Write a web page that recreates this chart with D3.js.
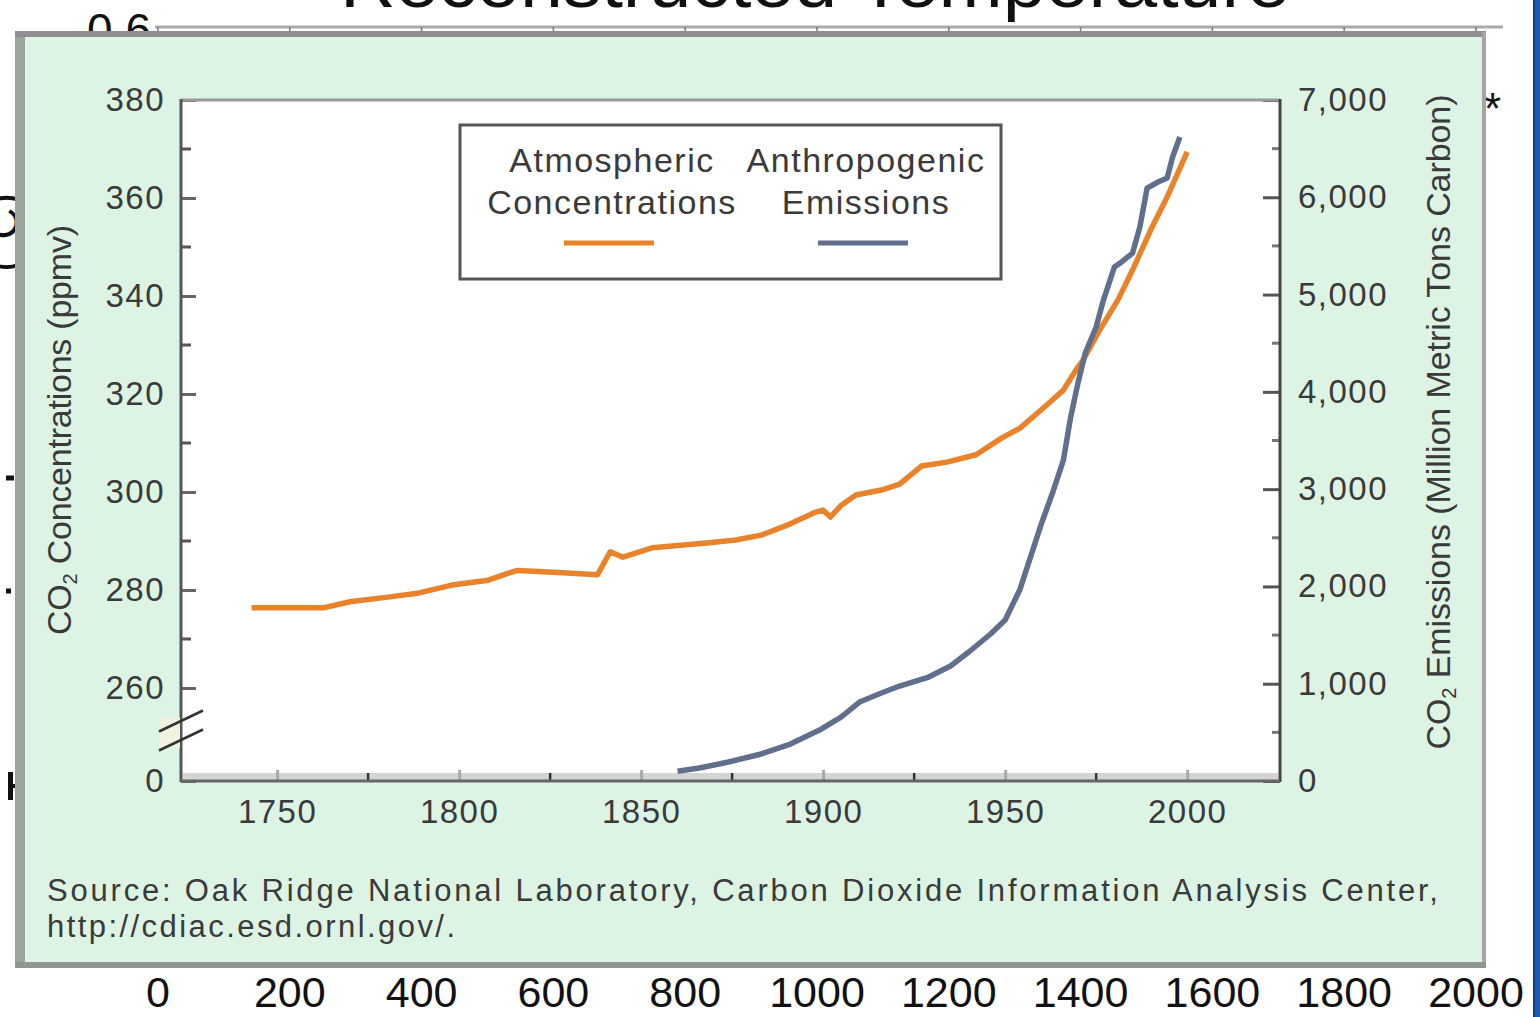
<!DOCTYPE html>
<html><head><meta charset="utf-8">
<script src="https://cdn.jsdelivr.net/npm/d3@7"></script>
<style>
body{margin:0;background:#fff;overflow:hidden;}
svg{display:block;}
text{font-family:"Liberation Sans",Arial,Helvetica,sans-serif;}
</style>
</head><body>
<svg id="c" width="1540" height="1017"></svg>
<script>
// ---- data ----
const concYears  = [1743,1763,1770,1781,1789,1798,1808,1813,1816,1826,1838,1841.5,1845,1853,1868,1876,1883,1891,1898,1900,1902,1905,1909,1916,1921,1927,1934,1942,1949,1954,1961.5,1966,1970,1971.4,1976,1981,1985,1990,1994.5,2000];
const concValues = [276.4,276.4,277.6,278.6,279.4,281.0,282.0,283.3,284.0,283.6,283.1,287.8,286.7,288.6,289.6,290.2,291.2,293.5,295.9,296.3,294.9,297.3,299.4,300.4,301.6,305.3,306.1,307.6,311.0,313.0,317.8,320.8,325.5,326.9,333.1,339.2,345.3,353.5,360.2,369.4];
const emisYears  = [1860,1866,1874,1883,1891,1899,1905,1910,1916,1921,1929,1935,1940,1946,1950,1954,1960,1963,1966,1968,1970,1972,1975,1977,1980,1982,1985,1987,1989,1992,1994.5,1996,1998];
const emisValues = [100,134,195,278,380,524,658,812,905,976,1069,1182,1326,1511,1655,1963,2650,2960,3299,3741,4091,4399,4667,4944,5283,5335,5427,5694,6095,6157,6198,6414,6620];

const leftTicks  = [0,260,280,300,320,340,360,380];
const leftMinor  = [270,290,310,330,350,370];
const rightTicks = [0,1000,2000,3000,4000,5000,6000,7000];
const rightMinor = [500,1500,2500,3500,4500,5500,6500];
const xTicks     = [1750,1800,1850,1900,1950,2000];
const xMinor     = [1775,1825,1875,1925,1975];
const bgTicks    = [0,200,400,600,800,1000,1200,1400,1600,1800,2000];

const legendLabels = [["Atmospheric","Concentrations"],["Anthropogenic","Emissions"]];
const leftTitle  = ["CO","2"," Concentrations (ppmv)"];
const rightTitle = ["CO","2"," Emissions (Million Metric Tons Carbon)"];
const sourceLines = ["Source: Oak Ridge National Laboratory, Carbon  Dioxide Information Analysis Center,","http://cdiac.esd.ornl.gov/."];
const bgTitle = "Reconstructed Temperature";

// ---- scales ----
const PL=181, PR=1280, PT=100, PB=781;
const x  = d3.scaleLinear().domain([1723.6,2025.5]).range([PL,PR]);
const yL = d3.scaleLinear().domain([0,260,380]).range([PB,688,PT]);
const yR = d3.scaleLinear().domain([0,7000]).range([PB,PT]);
const bgX = d3.scaleLinear().domain([0,2000]).range([158,1476]);

const svg = d3.select("#c");
const ORANGE="#e8832c", BLUE="#5f6f8c", TXT="#3a3a3a";

// ---- background chart fragments ----
svg.append("rect").attr("x",0).attr("y",0).attr("width",1540).attr("height",1017).attr("fill","#fff");
svg.append("rect").attr("x",1534).attr("y",0).attr("width",6).attr("height",1017).attr("fill","#1f5ab4");
svg.append("rect").attr("x",1533).attr("y",0).attr("width",2).attr("height",1017).attr("fill","#0d3c8c");
svg.append("text").attr("x",815).attr("y",7).attr("text-anchor","middle")
  .attr("font-size",72).attr("textLength",950).attr("lengthAdjust","spacingAndGlyphs")
  .attr("fill","#111").text(bgTitle);
svg.append("text").attr("x",151).attr("y",46).attr("text-anchor","end")
  .attr("font-size",46).attr("fill","#111").text("0.6");
svg.append("line").attr("x1",bgX(0)-3).attr("x2",bgX(2000)+27).attr("y1",27).attr("y2",27)
  .attr("stroke","#aaa").attr("stroke-width",3);
svg.selectAll(".bgt").data(bgTicks).join("line")
  .attr("x1",d=>bgX(d)).attr("x2",d=>bgX(d)).attr("y1",27).attr("y2",34)
  .attr("stroke","#777").attr("stroke-width",1.5);
svg.selectAll(".bgl").data(bgTicks).join("text")
  .attr("x",d=>bgX(d)).attr("y",1007).attr("text-anchor","middle")
  .attr("font-size",43).attr("fill","#111").text(d=>d);
svg.append("text").attr("transform","translate(18,193) rotate(-90)").attr("text-anchor","end")
  .attr("font-size",44).attr("fill","#111").text("(°C)");
svg.append("text").attr("x",1484).attr("y",124).attr("font-size",44).attr("fill","#111").text("*");
const bgMarks=[{y:478,w:8},{y:591,w:5}];
svg.selectAll(".bgm").data(bgMarks).join("line")
  .attr("x1",6).attr("x2",d=>6+d.w).attr("y1",d=>d.y).attr("y2",d=>d.y)
  .attr("stroke","#111").attr("stroke-width",5);
svg.append("rect").attr("x",8).attr("y",772).attr("width",5).attr("height",28).attr("fill","#111");
svg.append("rect").attr("x",8).attr("y",784).attr("width",8).attr("height",4).attr("fill","#111");

// ---- overlay panel ----
svg.append("rect").attr("x",15).attr("y",32).attr("width",1471).attr("height",936).attr("fill","#ddf4e4");
svg.append("rect").attr("x",15).attr("y",32).attr("width",10).attr("height",936).attr("fill","#9aa59c");
svg.append("rect").attr("x",15).attr("y",31).attr("width",1471).attr("height",6).attr("fill","#8e8f8e");
svg.append("rect").attr("x",1482).attr("y",32).attr("width",4).attr("height",936).attr("fill","#a3a6a3");
svg.append("rect").attr("x",15).attr("y",962).attr("width",1471).attr("height",6).attr("fill","#8f958f");

// ---- plot area ----
svg.append("rect").attr("x",PL).attr("y",PT).attr("width",PR-PL).attr("height",PB-PT).attr("fill","#fff");
svg.append("rect").attr("x",PL+2).attr("y",PB-8).attr("width",PR-PL-4).attr("height",7).attr("fill","#d4d4d4");

// axes
const gL = svg.append("g").attr("transform",`translate(${PL},0)`)
  .call(d3.axisLeft(yL).tickValues(leftTicks).tickSizeInner(-15).tickSizeOuter(0).tickPadding(16).tickFormat(d3.format("d")));
const gR = svg.append("g").attr("transform",`translate(${PR},0)`)
  .call(d3.axisRight(yR).tickValues(rightTicks).tickSizeInner(-17).tickSizeOuter(0).tickPadding(18).tickFormat(d3.format(",")));
const gB = svg.append("g").attr("transform",`translate(0,${PB})`)
  .call(d3.axisBottom(x).tickValues(xTicks).tickSizeInner(-11).tickSizeOuter(0).tickPadding(19).tickFormat(d3.format("d")));
[gL,gR,gB].forEach(g=>{
  g.select(".domain").remove();
  g.selectAll("text").attr("font-size",33).attr("letter-spacing",1.5).attr("fill",TXT)
    .style("font-family",'"Liberation Sans",Arial,sans-serif');
});
gL.selectAll(".tick line").attr("stroke","#666").attr("stroke-width",3);
gR.selectAll(".tick line").attr("stroke","#555").attr("stroke-width",3);
gB.selectAll(".tick line").attr("stroke","#a8a8a8").attr("stroke-width",3);
svg.selectAll(".lm").data(leftMinor).join("line")
  .attr("x1",PL).attr("x2",PL+10).attr("y1",d=>yL(d)).attr("y2",d=>yL(d))
  .attr("stroke","#555").attr("stroke-width",3);
svg.selectAll(".rm").data(rightMinor).join("line")
  .attr("x1",PR-8).attr("x2",PR).attr("y1",d=>yR(d)).attr("y2",d=>yR(d))
  .attr("stroke","#777").attr("stroke-width",3);
svg.selectAll(".xm").data(xMinor).join("line")
  .attr("x1",d=>x(d)).attr("x2",d=>x(d)).attr("y1",PB).attr("y2",PB-8)
  .attr("stroke","#333").attr("stroke-width",2.5);

// frame lines
svg.append("line").attr("x1",PL).attr("x2",PR).attr("y1",PT).attr("y2",PT).attr("stroke","#9a9a9a").attr("stroke-width",3);
svg.append("line").attr("x1",PL).attr("x2",PL).attr("y1",PT-1).attr("y2",PB+1).attr("stroke","#555").attr("stroke-width",3);
svg.append("line").attr("x1",PR).attr("x2",PR).attr("y1",PT-1).attr("y2",PB+1).attr("stroke","#444").attr("stroke-width",3);
svg.append("line").attr("x1",PL).attr("x2",PR).attr("y1",PB).attr("y2",PB).attr("stroke","#666").attr("stroke-width",3);

// axis break
const bMid = (yL(0)+yL(260))/2 - 5;
svg.append("rect").attr("x",PL-21).attr("y",bMid-12).attr("width",20).attr("height",30).attr("fill","#eef2df");
[-9,10].forEach(o=>{
  svg.append("line").attr("x1",PL-22).attr("x2",PL+22).attr("y1",bMid+o+11).attr("y2",bMid+o-10)
    .attr("stroke","#333").attr("stroke-width",2.5);
});

// ---- series ----
const concData = concYears.map((yr,i)=>[yr,concValues[i]]);
const emisData = emisYears.map((yr,i)=>[yr,emisValues[i]]);
svg.append("path").datum(concData)
  .attr("d",d3.line().x(d=>x(d[0])).y(d=>yL(d[1])))
  .attr("fill","none").attr("stroke",ORANGE).attr("stroke-width",5.5).attr("stroke-linejoin","round");
svg.append("path").datum(emisData)
  .attr("d",d3.line().x(d=>x(d[0])).y(d=>yR(d[1])))
  .attr("fill","none").attr("stroke",BLUE).attr("stroke-width",5.5).attr("stroke-linejoin","round");

// ---- legend ----
svg.append("rect").attr("x",460).attr("y",125).attr("width",541).attr("height",154)
  .attr("fill","#fff").attr("stroke","#555").attr("stroke-width",3);
const legCx=[612,866], legCol=[ORANGE,BLUE];
legendLabels.forEach((lab,i)=>{
  svg.append("text").attr("x",legCx[i]).attr("y",172).attr("text-anchor","middle")
    .attr("font-size",34).attr("letter-spacing",1.5).attr("fill",TXT).text(lab[0]);
  svg.append("text").attr("x",legCx[i]).attr("y",214).attr("text-anchor","middle")
    .attr("font-size",34).attr("letter-spacing",1.5).attr("fill",TXT).text(lab[1]);
  svg.append("line").attr("x1",legCx[i]-48).attr("x2",legCx[i]+42).attr("y1",243).attr("y2",243)
    .attr("stroke",legCol[i]).attr("stroke-width",5);
});

// ---- axis titles ----
function rotTitle(parts,tx,ty,len){
  const t = svg.append("text").attr("transform",`translate(${tx},${ty}) rotate(-90)`)
    .attr("text-anchor","middle").attr("font-size",34).attr("fill",TXT)
    .attr("textLength",len).attr("lengthAdjust","spacing");
  t.append("tspan").text(parts[0]);
  t.append("tspan").attr("font-size",20).attr("dy",6).text(parts[1]);
  t.append("tspan").attr("dy",-6).text(parts[2]);
}
rotTitle(leftTitle,71,430,410);
rotTitle(rightTitle,1450,422,655);

// ---- source ----
svg.append("text").attr("x",47).attr("y",901).attr("font-size",31).attr("fill",TXT)
  .attr("textLength",1391).attr("lengthAdjust","spacing").text(sourceLines[0]);
svg.append("text").attr("x",47).attr("y",937).attr("font-size",31).attr("fill",TXT)
  .attr("textLength",408).attr("lengthAdjust","spacing").text(sourceLines[1]);
</script>
</body></html>
